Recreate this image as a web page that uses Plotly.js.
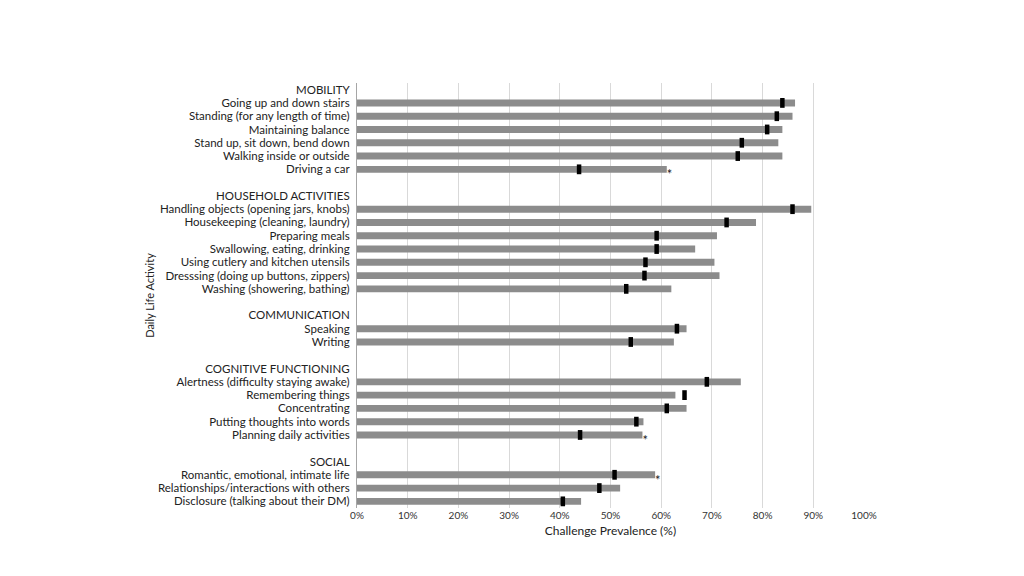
<!DOCTYPE html>
<html>
<head>
<meta charset="utf-8">
<script src="https://cdn.plot.ly/plotly-3.0.1.min.js"></script>
<style>html,body{margin:0;padding:0;background:#fff;}#chart{width:1024px;height:576px;}</style>
</head>
<body>
<div id="chart"></div>
<script>
// Groups (headers) and their activities
const groupNames = ["MOBILITY", "HOUSEHOLD ACTIVITIES", "COMMUNICATION", "COGNITIVE FUNCTIONING", "SOCIAL"];

const mobilityLabels = ["Going up and down stairs", "Standing (for any length of time)", "Maintaining balance", "Stand up, sit down, bend down", "Walking inside or outside", "Driving a car"];
const mobilityBars = [86.4, 85.9, 83.9, 83.1, 83.9, 61.1];
const mobilityMarks = [83.9, 82.8, 80.9, 75.9, 75.1, 43.8];
const mobilityStar = [false, false, false, false, false, true];

const householdLabels = ["Handling objects (opening jars, knobs)", "Housekeeping (cleaning, laundry)", "Preparing meals", "Swallowing, eating, drinking", "Using cutlery and kitchen utensils", "Dresssing (doing up buttons, zippers)", "Washing (showering, bathing)"];
const householdBars = [89.6, 78.7, 71.0, 66.7, 70.5, 71.5, 62.0];
const householdMarks = [85.9, 72.9, 59.1, 59.1, 56.9, 56.7, 53.1];
const householdStar = [false, false, false, false, false, false, false];

const communicationLabels = ["Speaking", "Writing"];
const communicationBars = [65.0, 62.5];
const communicationMarks = [63.1, 54.0];
const communicationStar = [false, false];

const cognitiveLabels = ["Alertness (difficulty staying awake)", "Remembering things", "Concentrating", "Putting thoughts into words", "Planning daily activities"];
const cognitiveBars = [75.7, 62.8, 65.0, 56.5, 56.3];
const cognitiveMarks = [69.0, 64.6, 61.1, 55.1, 44.0];
const cognitiveStar = [false, false, false, false, true];

const socialLabels = ["Romantic, emotional, intimate life", "Relationships/interactions with others", "Disclosure (talking about their DM)"];
const socialBars = [58.8, 51.9, 44.2];
const socialMarks = [50.8, 47.8, 40.6];
const socialStar = [true, false, false];

const xTickVals = [0, 10, 20, 30, 40, 50, 60, 70, 80, 90, 100];
const xTickText = ["0%", "10%", "20%", "30%", "40%", "50%", "60%", "70%", "80%", "90%", "100%"];

const groups = [
  [mobilityLabels, mobilityBars, mobilityMarks, mobilityStar],
  [householdLabels, householdBars, householdMarks, householdStar],
  [communicationLabels, communicationBars, communicationMarks, communicationStar],
  [cognitiveLabels, cognitiveBars, cognitiveMarks, cognitiveStar],
  [socialLabels, socialBars, socialMarks, socialStar]
];

// build row positions
const tickVals = [], tickText = [];
const barY = [], barX = [], markX = [], starY = [], starX = [];
let row = 0;
groups.forEach((g, gi) => {
  if (gi > 0) row++; // blank row
  tickVals.push(row); tickText.push(groupNames[gi]); row++;
  g[0].forEach((lab, i) => {
    tickVals.push(row); tickText.push(lab);
    barY.push(row); barX.push(g[1][i]); markX.push(g[2][i]);
    if (g[3][i]) { starY.push(row); starX.push(g[1][i]); }
    row++;
  });
});
const nRows = row;

const traces = [
  {
    type: 'bar', orientation: 'h', x: barX, y: barY, width: 0.52,
    marker: {color: '#8c8c8c', line: {width: 0}}, hoverinfo: 'x+y'
  },
  {
    type: 'scatter', mode: 'markers', x: markX, y: barY,
    marker: {symbol: 'line-ns', size: 7, color: '#000', line: {width: 4.5, color: '#000'}},
    hoverinfo: 'x'
  },
  {
    type: 'scatter', mode: 'text', x: starX, y: starY, text: starX.map(() => '*'),
    textposition: 'bottom right', textfont: {family: 'Lato, sans-serif', size: 13, color: '#222'},
    hoverinfo: 'skip', cliponaxis: false
  }
];

const layout = {
  width: 1024, height: 576,
  margin: {l: 357, r: 160, t: 83, b: 68, pad: 0},
  paper_bgcolor: '#fff', plot_bgcolor: '#fff',
  showlegend: false,
  font: {family: 'Lato, "Open Sans", sans-serif', color: '#222', size: 11},
  xaxis: {
    range: [0, 100], tickvals: xTickVals, ticktext: xTickText, showgrid: true,
    gridcolor: '#d9d9d9', gridwidth: 1, zeroline: false, showline: false, ticks: '',
    tickfont: {size: 10, color: '#333'}, fixedrange: true,
    title: {text: 'Challenge Prevalence (%)', font: {size: 12, color: '#222'}, standoff: 6}
  },
  yaxis: {
    range: [nRows - 0.5, -0.5], tickvals: tickVals, ticktext: tickText, showgrid: false,
    zeroline: false, showline: true, linecolor: '#a6a6a6', linewidth: 1, ticks: '',
    ticklabelstandoff: 4, tickfont: {size: 11.5, color: '#222'}, automargin: false,
    title: {text: 'Daily Life Activity', font: {size: 11, color: '#222'}, standoff: 1}
  }
};

Plotly.newPlot('chart', traces, layout, {displayModeBar: false, staticPlot: true});
</script>
</body>
</html>
